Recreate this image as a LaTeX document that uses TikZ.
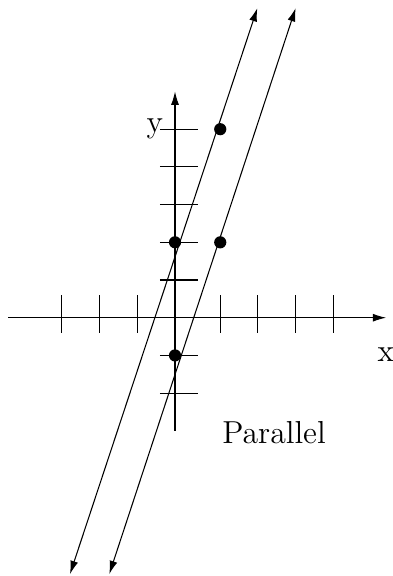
\documentclass[tikz,border=0pt]{standalone}
\usepackage{tikz}
\usetikzlibrary{arrows.meta, positioning}

\begin{document}
\begin{tikzpicture}[
    x=0.5cm, y=0.5cm,
    every node/.style={font=\large},
    axis/.style={-{Latex[length=5pt, width=3pt]}, thin},
    tick/.style={thin},
    lineof/.style={{Latex[length=5pt, width=3pt]}-{Latex[length=5pt, width=3pt]}, thin},
    dot/.style={circle, fill=black, inner sep=0pt, minimum size=4.6pt},
    label/.style={inner sep=0pt}
]
    % Frame
    \useasboundingbox (-4.642, -6.851) rectangle (5.756, 8.427);

    % Axes
    \coordinate (xstart) at (-4.42, 0);
    \coordinate (xend)   at (5.6, 0);
    \coordinate (ystart) at (0, -3);
    \coordinate (yend)   at (0, 6);
    \draw [axis] (xstart) -- (xend);
    \draw [axis] (ystart) -- (yend);

    % Ticks
    \foreach \t in {-3, -2, -1, 1.2, 2.2, 3.2, 4.2}
        \draw [tick] (\t, -0.4) -- (\t, 0.6);
    \foreach \t in {-2, -1, 0, 1, 2, 3, 4, 5}
        \draw [tick] (-0.4, \t) -- (0.6, \t);

    % Labels
    \node (ylabel) [label, anchor=base east] at (-0.3, 4.9) {y};
    \node (xlabel) [label, anchor=base west] at (5.36, -1.17) {x};
    \node (title)  [label, anchor=base west] at (1.24, -3.33) {Parallel};

    % Points
    \node (pa) [dot] at (0, 2) {};
    \node (pb) [dot] at (1.2, 5) {};
    \node (pc) [dot] at (1.2, 2) {};
    \node (pd) [dot] at (0, -1) {};

    % Lines
    \coordinate (la) at (-2.785, -6.8);
    \coordinate (lb) at (2.183, 8.21);
    \coordinate (lc) at (-1.743, -6.8);
    \coordinate (ld) at (3.2, 8.21);
    \draw [lineof] (la) -- (lb);
    \draw [lineof] (lc) -- (ld);

\end{tikzpicture}
\end{document}
